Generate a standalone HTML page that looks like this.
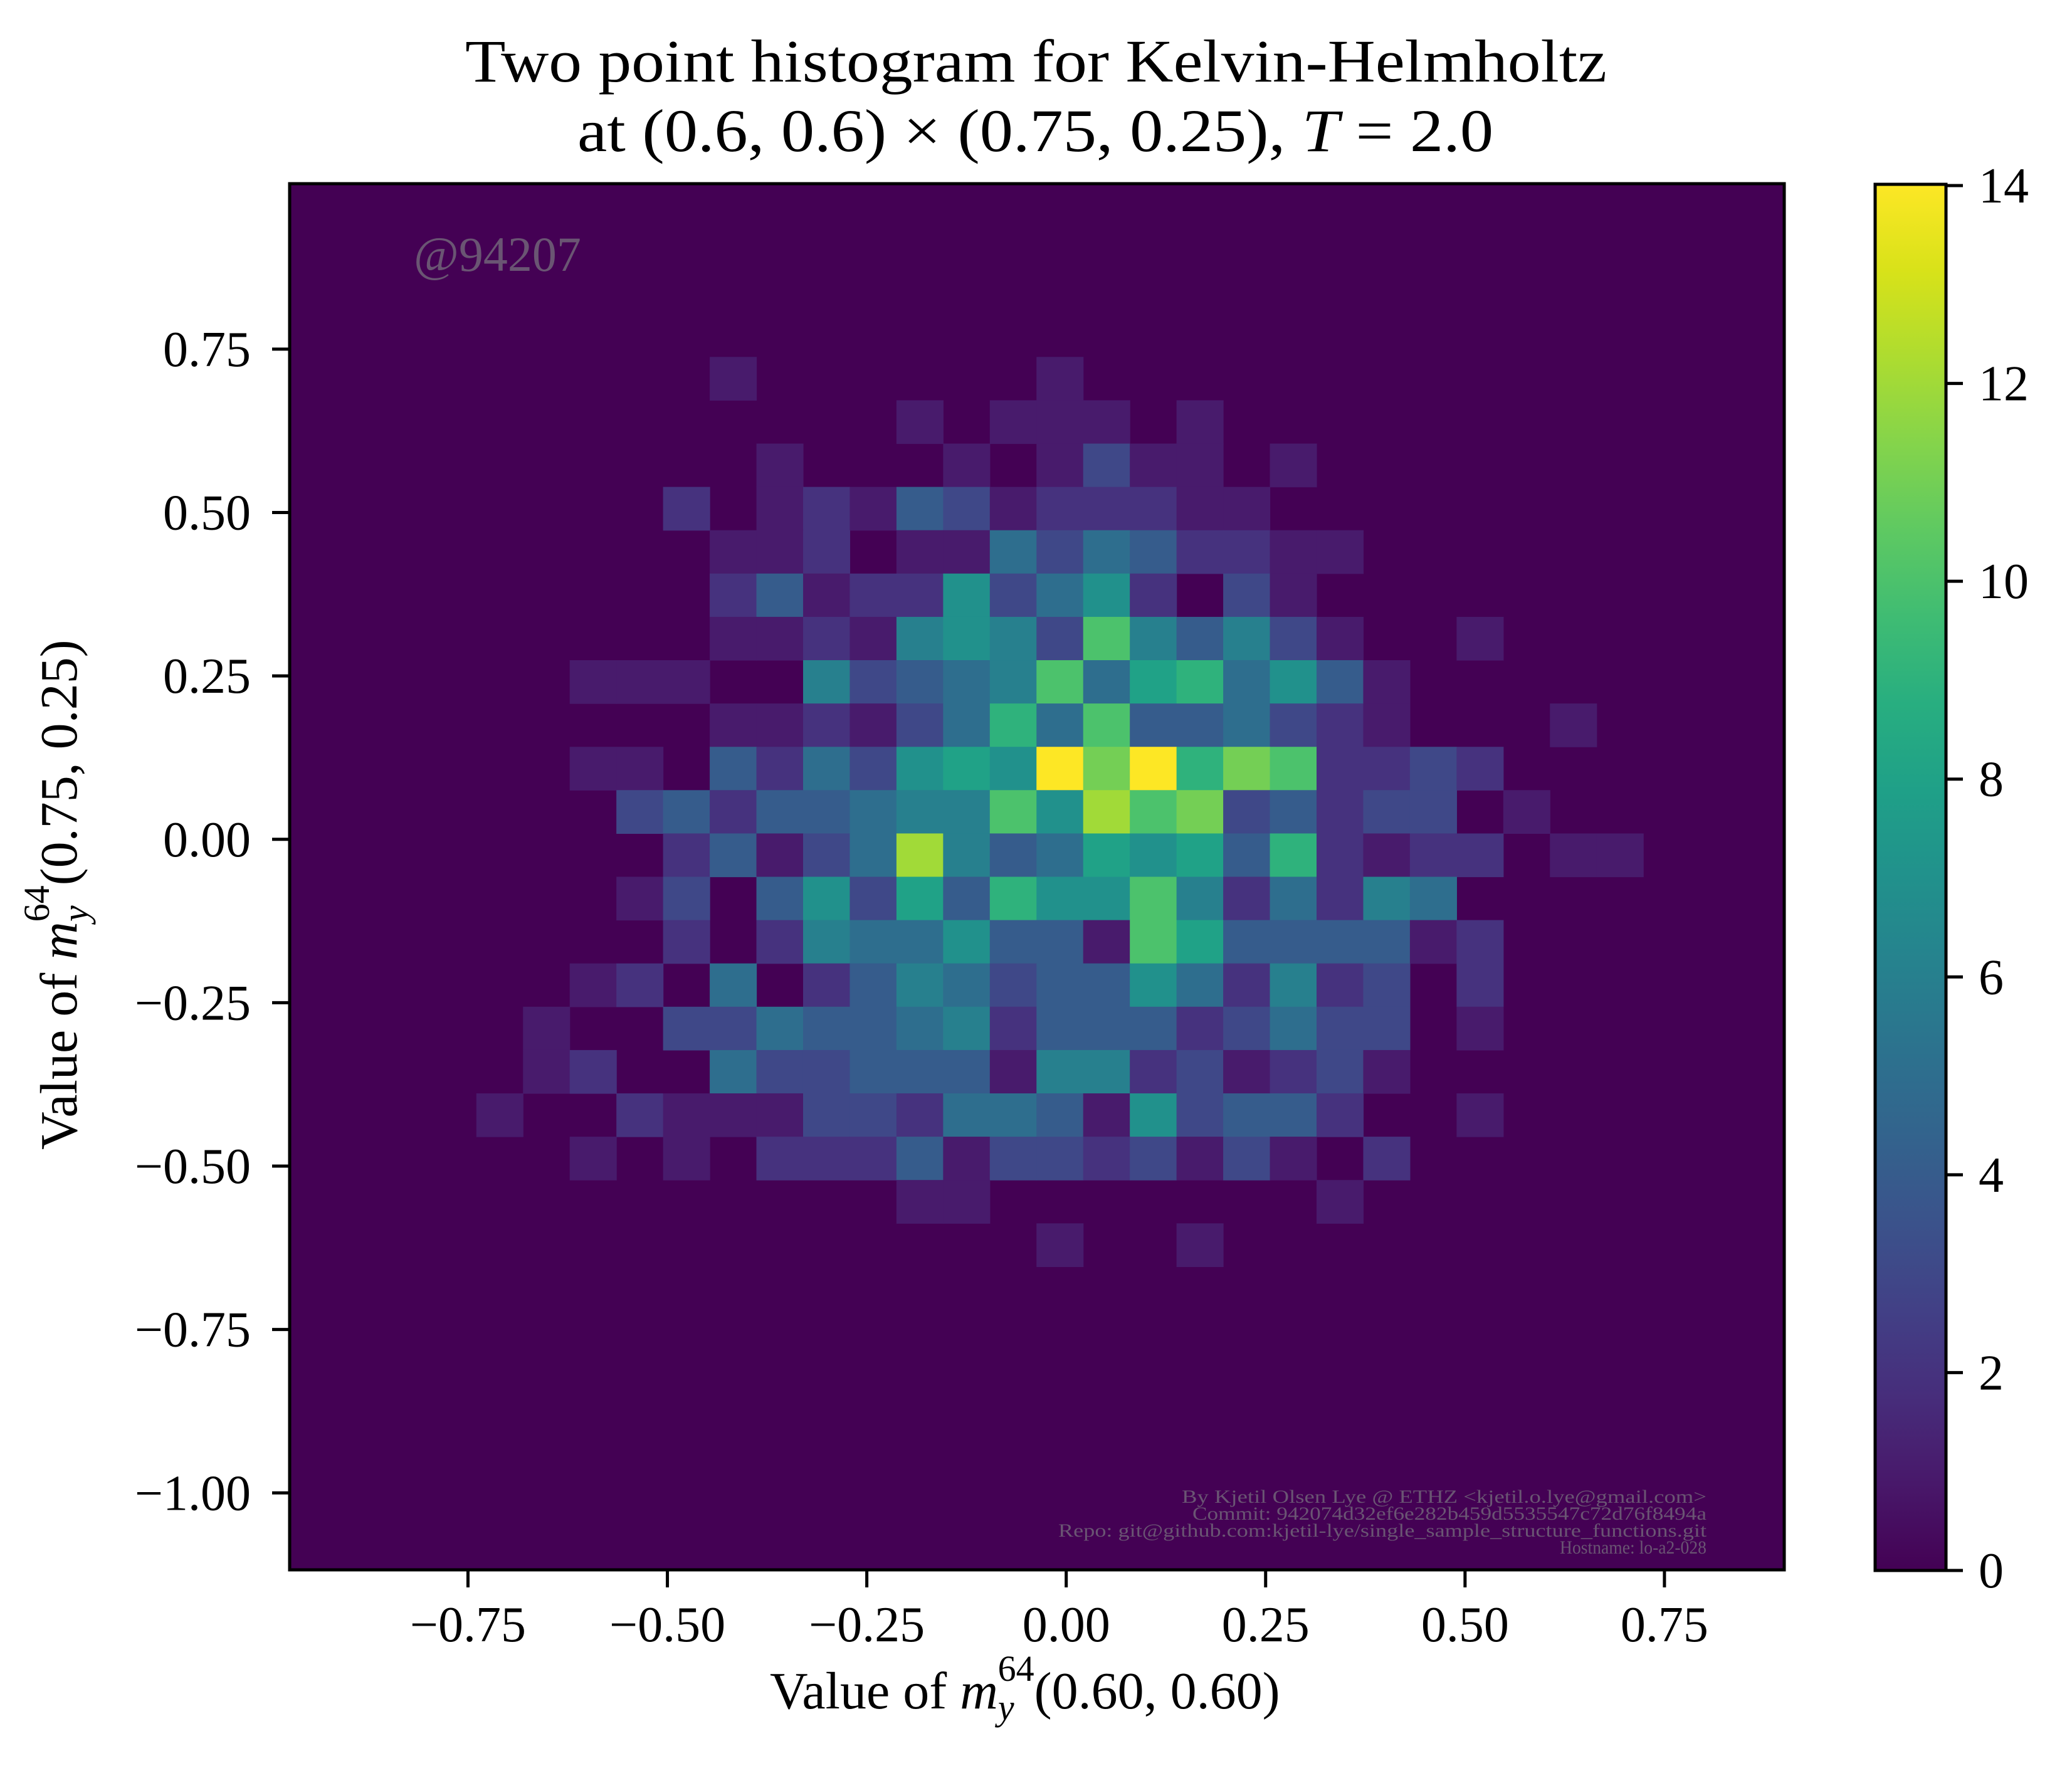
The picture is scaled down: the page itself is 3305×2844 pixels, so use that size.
<!DOCTYPE html>
<html><head><meta charset="utf-8"><style>
html,body{margin:0;padding:0;background:#fff;}
svg{display:block;font-family:"Liberation Serif",serif;}
</style></head><body>
<svg id="chart" width="3305" height="2844" viewBox="0 0 3305 2844" xmlns="http://www.w3.org/2000/svg">
<defs>
<linearGradient id="viridisGrad" x1="0" y1="1" x2="0" y2="0">
<stop offset="0" stop-color="#440154"/><stop offset="0.0625" stop-color="#48186a"/><stop offset="0.125" stop-color="#472d7b"/><stop offset="0.1875" stop-color="#424086"/><stop offset="0.25" stop-color="#3b528b"/><stop offset="0.3125" stop-color="#33638d"/><stop offset="0.375" stop-color="#2c728e"/><stop offset="0.4375" stop-color="#26828e"/><stop offset="0.5" stop-color="#21918c"/><stop offset="0.5625" stop-color="#1fa088"/><stop offset="0.625" stop-color="#28ae80"/><stop offset="0.6875" stop-color="#3fbc73"/><stop offset="0.75" stop-color="#5ec962"/><stop offset="0.8125" stop-color="#84d44b"/><stop offset="0.875" stop-color="#addc30"/><stop offset="0.9375" stop-color="#d8e219"/><stop offset="1" stop-color="#fde725"/>
</linearGradient>
</defs>
<g font-size="96" fill="#000">
<text x="742" y="130" textLength="1821" lengthAdjust="spacingAndGlyphs">Two point histogram for Kelvin-Helmholtz</text>
<text x="921" y="241" textLength="1461" lengthAdjust="spacingAndGlyphs">at (0.6, 0.6) × (0.75, 0.25), <tspan font-style="italic">T</tspan> = 2.0</text>
</g>
<g id="plot"></g>
<g id="cells"></g>
<text x="660" y="432" font-size="78" fill="#6a5573">@94207</text>
<g font-size="30" fill="#6a5573">
<text x="1885" y="2397" textLength="837" lengthAdjust="spacingAndGlyphs">By Kjetil Olsen Lye @ ETHZ &lt;kjetil.o.lye@gmail.com&gt;</text>
<text x="1902" y="2424" textLength="820" lengthAdjust="spacingAndGlyphs">Commit: 942074d32ef6e282b459d5535547c72d76f8494a</text>
<text x="1688" y="2451" textLength="1034" lengthAdjust="spacingAndGlyphs">Repo: git@github.com:kjetil-lye/single_sample_structure_functions.git</text>
<text x="2488" y="2478" textLength="234" lengthAdjust="spacingAndGlyphs">Hostname: lo-a2-028</text>
</g>
<rect x="462" y="293" width="2384" height="2211" fill="none" stroke="#000" stroke-width="5"/>
<g id="xaxis"></g>
<g id="yaxis"></g>
<text x="1228" y="2725" font-size="84">Value of <tspan font-style="italic">m</tspan><tspan font-style="italic" font-size="58" dy="18">y</tspan><tspan font-size="58" dx="-26" dy="-62">64</tspan><tspan dy="44">(0.60, 0.60)</tspan></text>
<text transform="translate(122,1834) rotate(-90)" font-size="84">Value of <tspan font-style="italic">m</tspan><tspan font-style="italic" font-size="58" dy="18">y</tspan><tspan font-size="58" dx="-26" dy="-62">64</tspan><tspan dy="44">(0.75, 0.25)</tspan></text>
<rect x="2991" y="294" width="113" height="2211" fill="url(#viridisGrad)" stroke="#000" stroke-width="5"/>
<g id="cbaxis"></g>
<script>
var xTicks = [-0.75, -0.5, -0.25, 0, 0.25, 0.5, 0.75];
var xTickLabels = ["\u22120.75", "\u22120.50", "\u22120.25", "0.00", "0.25", "0.50", "0.75"];
var yTicks = [0.75, 0.5, 0.25, 0, -0.25, -0.5, -0.75, -1.0];
var yTickLabels = ["0.75", "0.50", "0.25", "0.00", "\u22120.25", "\u22120.50", "\u22120.75", "\u22121.00"];
var cbTicks = [0, 2, 4, 6, 8, 10, 12, 14];
var cbTickLabels = ["0", "2", "4", "6", "8", "10", "12", "14"];
var binXMin = -0.9736;
var binWidth = 0.05852;
var binYMax = 1.0032;
var binHeight = 0.06628;
var nBins = 32;
var firstRowBin = 4;
var firstColBin = 4;
var countMax = 14;
var counts = [
[0,0,0,0,0,1,0,0,0,0,0,0,1,0,0,0,0,0,0,0,0,0,0,0,0,0],
[0,0,0,0,0,0,0,0,0,1,0,1,1,1,0,1,0,0,0,0,0,0,0,0,0,0],
[0,0,0,0,0,0,1,0,0,0,1,0,1,3,1,1,0,1,0,0,0,0,0,0,0,0],
[0,0,0,0,2,0,1,2,1,4,3,1,2,2,2,1,1,0,0,0,0,0,0,0,0,0],
[0,0,0,0,0,1,1,2,0,1,1,5,3,5,4,2,2,1,1,0,0,0,0,0,0,0],
[0,0,0,0,0,2,4,1,2,2,7,3,5,7,2,0,3,1,0,0,0,0,0,0,0,0],
[0,0,0,0,0,1,1,2,1,6,7,6,3,10,6,4,6,3,1,0,0,1,0,0,0,0],
[0,0,1,1,1,0,0,6,3,4,5,6,10,5,8,9,5,7,4,1,0,0,0,0,0,0],
[0,0,0,0,0,1,1,2,1,3,5,9,5,10,4,4,5,3,2,1,0,0,0,1,0,0],
[0,0,1,1,0,4,2,5,3,7,8,7,14,11,14,9,11,10,2,2,3,2,0,0,0,0],
[0,0,0,3,4,2,4,4,5,6,6,10,7,12,10,11,3,4,2,3,3,0,1,0,0,0],
[0,0,0,0,2,4,1,3,5,12,6,4,5,8,7,8,4,9,2,1,2,2,0,1,1,0],
[0,0,0,1,3,0,4,7,3,8,4,9,7,7,10,6,2,5,2,6,5,0,0,0,0,0],
[0,0,0,0,2,0,2,6,5,5,7,4,4,1,10,8,4,4,4,4,1,2,0,0,0,0],
[0,0,1,2,0,5,0,2,4,6,5,3,4,4,7,5,2,6,2,3,0,2,0,0,0,0],
[0,1,0,0,3,3,5,4,4,5,6,2,4,4,4,2,3,5,3,3,0,1,0,0,0,0],
[0,1,2,0,0,5,3,3,4,4,4,1,6,6,2,3,1,2,3,1,0,0,0,0,0,0],
[1,0,0,2,1,1,1,3,3,2,5,5,4,1,7,3,4,4,2,0,0,1,0,0,0,0],
[0,0,1,0,1,0,2,2,2,4,1,3,3,2,3,1,3,1,0,2,0,0,0,0,0,0],
[0,0,0,0,0,0,0,0,0,1,1,0,0,0,0,0,0,0,1,0,0,0,0,0,0,0],
[0,0,0,0,0,0,0,0,0,0,0,0,1,0,0,1,0,0,0,0,0,0,0,0,0,0]
];
var viridis = ["#440154","#48186a","#472d7b","#424086","#3b528b","#33638d","#2c728e","#26828e","#21918c","#1fa088","#28ae80","#3fbc73","#5ec962","#84d44b","#addc30","#d8e219","#fde725"];

var NS = "http://www.w3.org/2000/svg";
function xScale(v){ return 1700.7 + v * 1272.3; }
function yScale(v){ return 1338.8 - v * 1042.5; }
function cbScale(v){ return 2505 - v / countMax * 2209; }
function hex(h){ return [parseInt(h.substr(1,2),16),parseInt(h.substr(3,2),16),parseInt(h.substr(5,2),16)]; }
function colorFor(c){
  var t = Math.max(0, Math.min(1, c / countMax)) * (viridis.length - 1);
  var i = Math.min(viridis.length - 2, Math.floor(t)), f = t - i;
  var a = hex(viridis[i]), b = hex(viridis[i+1]);
  return "rgb(" + [0,1,2].map(function(k){ return Math.round(a[k] + (b[k]-a[k])*f); }).join(",") + ")";
}
function mk(tag, attrs, parent){
  var el = document.createElementNS(NS, tag);
  for (var k in attrs) el.setAttribute(k, attrs[k]);
  parent.appendChild(el);
  return el;
}
var plot = document.getElementById("plot");
var bg = mk("rect", {x: xScale(binXMin), y: yScale(binYMax), width: xScale(binXMin + nBins*binWidth) - xScale(binXMin), height: yScale(binYMax - nBins*binHeight) - yScale(binYMax), fill: colorFor(0)}, plot);



var cells = document.getElementById("cells");
for (var r = 0; r < counts.length; r++) {
  for (var c = 0; c < counts[r].length; c++) {
    var v = counts[r][c];
    if (v <= 0) continue;
    var xb = firstColBin + c, yb = firstRowBin + r;
    var x0 = xScale(binXMin + xb * binWidth), x1 = xScale(binXMin + (xb + 1) * binWidth);
    var y0 = yScale(binYMax - yb * binHeight), y1 = yScale(binYMax - (yb + 1) * binHeight);
    var cell = mk("rect", {x: x0, y: y0, width: x1 - x0 + 0.6, height: y1 - y0 + 0.6, fill: colorFor(v)}, cells);
    
    
  }
}

var xaxis = document.getElementById("xaxis");
for (var i = 0; i < xTicks.length; i++) {
  var xp = xScale(xTicks[i]);
  var tk = mk("line", {x1: xp, x2: xp, y1: 2504, y2: 2532, stroke: "#000", "stroke-width": 5}, xaxis);
  
  
  var lb = mk("text", {x: xp, y: 2618, "font-size": 80, "text-anchor": "middle"}, xaxis);
  lb.textContent = xTickLabels[i];
  
  
}
var yaxis = document.getElementById("yaxis");
for (var j = 0; j < yTicks.length; j++) {
  var yp = yScale(yTicks[j]);
  var tky = mk("line", {x1: 434, x2: 462, y1: yp, y2: yp, stroke: "#000", "stroke-width": 5}, yaxis);
  
  
  var lby = mk("text", {x: 400, y: yp + 27, "font-size": 80, "text-anchor": "end"}, yaxis);
  lby.textContent = yTickLabels[j];
  
  
}
var cbaxis = document.getElementById("cbaxis");
for (var k = 0; k < cbTicks.length; k++) {
  var cy = cbScale(cbTicks[k]);
  var tkc = mk("line", {x1: 3104, x2: 3131, y1: cy, y2: cy, stroke: "#000", "stroke-width": 5}, cbaxis);
  
  
  var lbc = mk("text", {x: 3156, y: cy + 27, "font-size": 80}, cbaxis);
  lbc.textContent = cbTickLabels[k];
  
  
}
</script>
</svg>
</body></html>
